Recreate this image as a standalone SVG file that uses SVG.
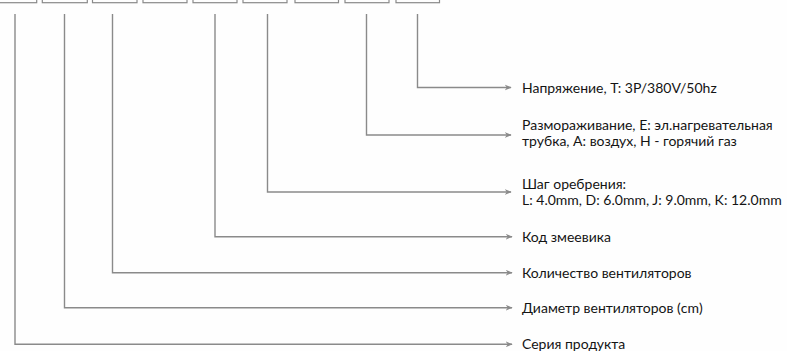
<svg xmlns="http://www.w3.org/2000/svg" width="787" height="351" viewBox="0 0 787 351">
<style>
.box{fill:none;stroke:#8a8a8a;stroke-width:1.2}
.con{fill:none;stroke:#8a8a8a;stroke-width:1.4}
.lbl{font-family:Lato,"Open Sans","DejaVu Sans",sans-serif;font-size:14px;fill:#141414}
</style>
<defs>
<marker id="arr" viewBox="0 0 10 10" refX="9" refY="5" markerWidth="7" markerHeight="7" markerUnits="userSpaceOnUse" orient="auto">
<path d="M0,1 L10,5 L0,9 L3,5 Z" fill="#8a8a8a"/>
</marker>
</defs>
<rect width="787" height="351" fill="#fefefe"/>
<g id="code-boxes">
<rect id="box1" class="box" x="-8" y="-20" width="44.7" height="22.7"/>
<rect id="box2" class="box" x="42.3" y="-20" width="45" height="22.7"/>
<rect id="box3" class="box" x="92.5" y="-20" width="44.5" height="22.7"/>
<rect id="box4" class="box" x="143" y="-20" width="44" height="22.7"/>
<rect id="box5" class="box" x="193" y="-20" width="44" height="22.7"/>
<rect id="box6" class="box" x="243" y="-20" width="44" height="22.7"/>
<rect id="box7" class="box" x="295" y="-20" width="43.5" height="22.7"/>
<rect id="box8" class="box" x="345" y="-20" width="44" height="22.7"/>
<rect id="box9" class="box" x="396" y="-20" width="43.5" height="22.7"/>
</g>
<g id="connectors">
<path class="con" d="M417.5,14 V87.5 H511" marker-end="url(#arr)"/>
<path class="con" d="M366.5,14 V135 H511" marker-end="url(#arr)"/>
<path class="con" d="M267.5,14 V192 H511" marker-end="url(#arr)"/>
<path class="con" d="M215,14 V236.7 H512" marker-end="url(#arr)"/>
<path class="con" d="M112.5,14 V272.7 H512" marker-end="url(#arr)"/>
<path class="con" d="M64.5,14 V307.7 H512" marker-end="url(#arr)"/>
<path class="con" d="M15,14 V344.3 H512" marker-end="url(#arr)"/>
</g>
<g id="label-voltage"><text class="lbl" x="522" y="92.5">Напряжение, T: 3P/380V/50hz</text></g>
<g id="label-defrost"><text class="lbl" x="522" y="130">Размораживание, E: эл.нагревательная</text><text class="lbl" x="522" y="145.5">трубка, A: воздух, H - горячий газ</text></g>
<g id="label-fin"><text class="lbl" x="522" y="188.5">Шаг оребрения:</text><text class="lbl" x="522" y="204.5">L: 4.0mm, D: 6.0mm, J: 9.0mm, K: 12.0mm</text></g>
<g id="label-coil"><text class="lbl" x="522" y="241.5">Код змеевика</text></g>
<g id="label-fans"><text class="lbl" x="522" y="277.5">Количество вентиляторов</text></g>
<g id="label-diameter"><text class="lbl" x="522" y="312.5">Диаметр вентиляторов (cm)</text></g>
<g id="label-series"><text class="lbl" x="522" y="349">Серия продукта</text></g>
</svg>
